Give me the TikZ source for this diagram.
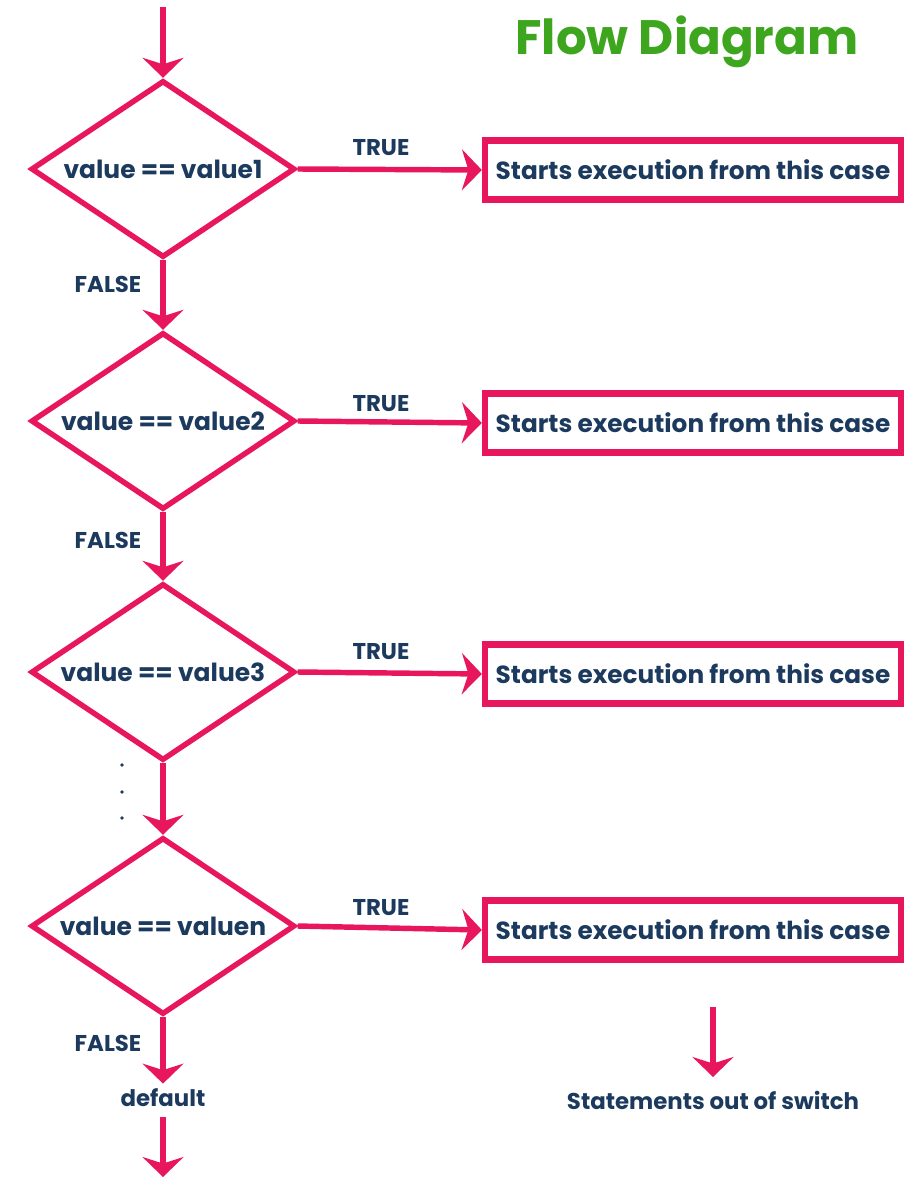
\documentclass[tikz,border=0pt]{standalone}
\usepackage{fontspec}
\setmainfont{Poppins}
\usetikzlibrary{shapes.geometric,arrows.meta}
\definecolor{pinkred}{HTML}{E8175D}
\definecolor{navy}{HTML}{1C3A5E}
\definecolor{titlegreen}{HTML}{3DA61E}
\begin{document}
\begin{tikzpicture}[x=0.02cm,y=-0.02cm,
  dec/.style={diamond, aspect=1.49, draw=pinkred, line width=3.1pt, minimum width=5.28cm, minimum height=3.54cm, inner sep=0pt, font=\bfseries\fontsize{14.2}{16}\selectfont, text=navy},
  casebox/.style={rectangle, draw=pinkred, line width=3.6pt, minimum width=8.32cm, minimum height=1.18cm, inner sep=0pt, font=\bfseries\fontsize{14.1}{16}\selectfont, text=navy},
  lbl/.style={font=\bfseries\fontsize{13}{15}\selectfont, text=navy, inner sep=0pt},
  flow/.style={draw=pinkred, line width=3.1pt, -{Stealth[length=0.4cm,width=0.82cm,inset=0.13cm]}},
]
\useasboundingbox (0,0) rectangle (913,1179);
\node[anchor=base, font=\bfseries\fontsize{27.5}{32}\selectfont, text=titlegreen] (title) at (687,55) {Flow Diagram};

\coordinate (start) at (163,7);
\node[dec] (d1) at (163,169) {value == value1};
\node[dec] (d2) at (163,421) {value == value2};
\node[dec] (d3) at (163,672) {value == value3};
\node[dec] (dn) at (163,926) {value == valuen};

\node[casebox] (b1) at (693,170) {Starts execution from this case};
\node[casebox] (b2) at (693,423) {Starts execution from this case};
\node[casebox] (b3) at (693,674) {Starts execution from this case};
\node[casebox] (bn) at (693,930) {Starts execution from this case};

\node[lbl] (t1) at (381,148) {TRUE};
\node[lbl] (t2) at (381,404) {TRUE};
\node[lbl] (t3) at (381,652) {TRUE};
\node[lbl] (tn) at (381,908) {TRUE};
\node[lbl] (f1) at (108,284) {FALSE};
\node[lbl] (f2) at (108,540) {FALSE};
\node[lbl] (fn) at (108,1043) {FALSE};

\node[lbl] (def) at (163,1098) {default};
\coordinate (end) at (163,1177);
\coordinate (outstart) at (713,1007);
\coordinate (outend) at (713,1077);
\node[lbl] (out) at (713,1100) {Statements out of switch};

\fill[navy] (122,765) circle (1.8);
\fill[navy] (122,792) circle (1.8);
\fill[navy] (122,818) circle (1.8);

\draw[flow] (start) -- (d1.north);
\draw[flow] (d1.south) -- (d2.north);
\draw[flow] (d2.south) -- (d3.north);
\draw[flow] (d3.south) -- (dn.north);
\draw[flow] (d1.east) -- (b1.west);
\draw[flow] (d2.east) -- (b2.west);
\draw[flow] (d3.east) -- (b3.west);
\draw[flow] (dn.east) -- (bn.west);
\draw[flow] (dn.south) -- ([yshift=1mm]def.north);
\draw[flow] ([yshift=-2mm]def.south) -- (end);
\draw[flow] (outstart) -- (outend);
\end{tikzpicture}
\end{document}
